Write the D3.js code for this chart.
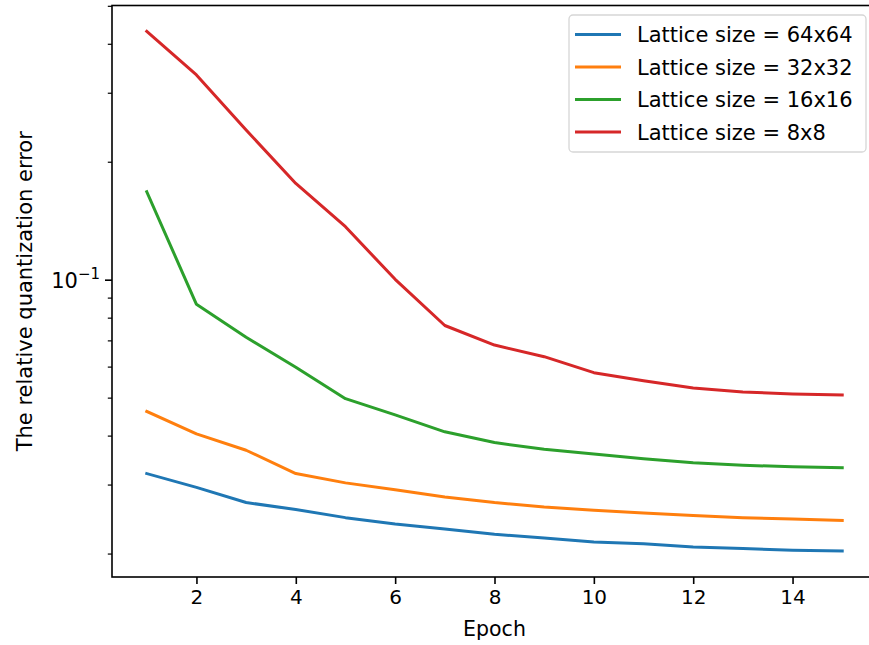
<!DOCTYPE html>
<html>
<head>
<meta charset="utf-8">
<script src="https://cdn.jsdelivr.net/npm/d3@7"></script>
<style>
  body { margin: 0; background: #fff; }
  text { font-family: "DejaVu Sans", sans-serif; fill: #000; }
</style>
</head>
<body>
<div id="vis"></div>
<script>
// declare constants
const FRAME_WIDTH = 869;
const FRAME_HEIGHT = 645;
const MARGINS = {left: 112, right: -8, top: 5.5, bottom: 68};

const VIS_WIDTH = FRAME_WIDTH - MARGINS.left - MARGINS.right;
const VIS_HEIGHT = FRAME_HEIGHT - MARGINS.top - MARGINS.bottom;

// data
const EPOCHS = [1, 2, 3, 4, 5, 6, 7, 8, 9, 10, 11, 12, 13, 14, 15];
const ERR_64 = [0.0320, 0.0295, 0.0270, 0.0259, 0.0247, 0.0238, 0.0231, 0.0224,
                0.0219, 0.0214, 0.0212, 0.0208, 0.0206, 0.0204, 0.0203];
const ERR_32 = [0.0461, 0.0404, 0.0367, 0.0320, 0.0303, 0.0291, 0.0279, 0.0270,
                0.0263, 0.0258, 0.0254, 0.0250, 0.0247, 0.0245, 0.0243];
const ERR_16 = [0.1676, 0.0865, 0.0713, 0.0598, 0.0497, 0.0452, 0.0409, 0.0384,
                0.0369, 0.0359, 0.0349, 0.0341, 0.0336, 0.0333, 0.0331];
const ERR_8  = [0.430, 0.333, 0.241, 0.176, 0.1365, 0.1002, 0.0764, 0.0681,
                0.0636, 0.0579, 0.0552, 0.0529, 0.0517, 0.0511, 0.0508];
const LABELS = ["Lattice size = 64x64", "Lattice size = 32x32",
                "Lattice size = 16x16", "Lattice size = 8x8"];
const COLORS = ["#1f77b4", "#ff7f0e", "#2ca02c", "#d62728"];
const X_TICKS = [2, 4, 6, 8, 10, 12, 14];
const Y_MAJOR = [0.1];
const Y_MINOR = [0.02, 0.03, 0.04, 0.05, 0.06, 0.07, 0.08, 0.09, 0.2, 0.3, 0.4, 0.5];

const SERIES = [ERR_64, ERR_32, ERR_16, ERR_8].map((vals, i) => {
  return {label: LABELS[i], color: COLORS[i],
          points: vals.map((v, j) => ({x: EPOCHS[j], y: v}))};
});

// frame
const SVG = d3.select("#vis")
  .append("svg")
    .attr("width", FRAME_WIDTH)
    .attr("height", FRAME_HEIGHT);

// scaling (matplotlib style 5% margins, log on y)
const X_PAD = (d3.max(EPOCHS) - d3.min(EPOCHS)) * 0.05;
const X_SCALE = d3.scaleLinear()
  .domain([d3.min(EPOCHS) - X_PAD, d3.max(EPOCHS) + X_PAD])
  .range([0, VIS_WIDTH]);

const ALL_VALS = [].concat(ERR_64, ERR_32, ERR_16, ERR_8);
const LO = Math.log10(d3.min(ALL_VALS));
const HI = Math.log10(d3.max(ALL_VALS));
const Y_PAD = (HI - LO) * 0.05;
const Y_SCALE = d3.scaleLog()
  .domain([Math.pow(10, LO - Y_PAD), Math.pow(10, HI + Y_PAD)])
  .range([VIS_HEIGHT, 0]);

const PLOT = SVG.append("g")
  .attr("transform", "translate(" + MARGINS.left + "," + MARGINS.top + ")");

// lines
const LINE = d3.line()
  .x((d) => X_SCALE(d.x))
  .y((d) => Y_SCALE(d.y));

PLOT.selectAll(".series")
  .data(SERIES)
  .enter()
  .append("path")
    .attr("class", "series")
    .attr("d", (d) => LINE(d.points))
    .attr("fill", "none")
    .attr("stroke", (d) => d.color)
    .attr("stroke-width", 3)
    .attr("stroke-linejoin", "round")
    .attr("stroke-linecap", "square");

// x axis
const X_AXIS = PLOT.append("g")
  .attr("transform", "translate(0," + VIS_HEIGHT + ")")
  .call(d3.axisBottom(X_SCALE).tickValues(X_TICKS).tickSize(7).tickPadding(6));
X_AXIS.select(".domain").remove();
X_AXIS.selectAll("line").attr("stroke-width", 1.6);
X_AXIS.selectAll("text").attr("font-size", "20px").attr("font-family", "DejaVu Sans");

// y axis, minor ticks
const Y_MINOR_AXIS = PLOT.append("g")
  .call(d3.axisLeft(Y_SCALE).tickValues(Y_MINOR).tickSize(4.2).tickFormat(""));
Y_MINOR_AXIS.select(".domain").remove();
Y_MINOR_AXIS.selectAll("line").attr("stroke-width", 1.2);

// y axis, major ticks
const Y_AXIS = PLOT.append("g")
  .call(d3.axisLeft(Y_SCALE).tickValues(Y_MAJOR).tickSize(7).tickPadding(6).tickFormat(""));
Y_AXIS.select(".domain").remove();
Y_AXIS.selectAll("line").attr("stroke-width", 1.6);
Y_AXIS.selectAll(".tick").each(function (d) {
  const T = d3.select(this).append("text")
    .attr("x", -12)
    .attr("dy", "0.36em")
    .attr("text-anchor", "end")
    .attr("font-size", "21px")
    .attr("font-family", "DejaVu Sans")
    .attr("fill", "#000");
  T.append("tspan").text("10");
  T.append("tspan").attr("dy", "-0.55em").attr("font-size", "15px").text("\u22121");
});

// spines
PLOT.append("rect")
  .attr("x", 0)
  .attr("y", 0)
  .attr("width", VIS_WIDTH)
  .attr("height", VIS_HEIGHT)
  .attr("fill", "none")
  .attr("stroke", "#000")
  .attr("stroke-width", 1.6);

// axis labels
SVG.append("text")
  .attr("x", MARGINS.left + VIS_WIDTH / 2)
  .attr("y", 636)
  .attr("text-anchor", "middle")
  .attr("font-size", "20.5px")
  .text("Epoch");

SVG.append("text")
  .attr("transform", "translate(32," + (MARGINS.top + VIS_HEIGHT / 2) + ") rotate(-90)")
  .attr("text-anchor", "middle")
  .attr("font-size", "21px")
  .text("The relative quantization error");

// legend
const LEGEND = SVG.append("g").attr("transform", "translate(569,15)");
LEGEND.append("rect")
  .attr("width", 297)
  .attr("height", 137)
  .attr("rx", 4)
  .attr("fill", "#fff")
  .attr("fill-opacity", 0.8)
  .attr("stroke", "#d6d6d6")
  .attr("stroke-width", 1.3);

const ITEMS = LEGEND.selectAll(".item")
  .data(SERIES)
  .enter()
  .append("g")
    .attr("class", "item")
    .attr("transform", (d, i) => "translate(0," + (19.5 + i * 32.5) + ")");
ITEMS.append("line")
  .attr("x1", 6)
  .attr("x2", 52)
  .attr("stroke", (d) => d.color)
  .attr("stroke-width", 3);
ITEMS.append("text")
  .attr("x", 68)
  .attr("dy", "0.36em")
  .attr("font-size", "21px")
  .text((d) => d.label);
</script>
</body>
</html>
